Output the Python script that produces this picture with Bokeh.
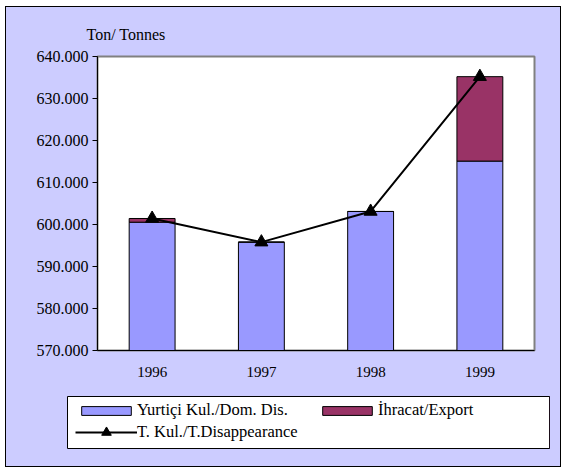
from bokeh.plotting import figure
from bokeh.layouts import column, row
from bokeh.models import (ColumnDataSource, FactorRange, Range1d, CustomJSTickFormatter,
                          Legend, LegendItem)
from bokeh.embed import file_html
from bokeh.resources import INLINE

years = ["1996", "1997", "1998", "1999"]
domestic = [600550, 595800, 603100, 615100]
export = [880, 0, 0, 20100]
total = [601430, 595800, 603100, 635200]
y_ticks = [570000, 580000, 590000, 600000, 610000, 620000, 630000, 640000]
labels = ["Yurtiçi Kul./Dom. Dis.", "İhracat/Export", "T. Kul./T.Disappearance"]

FONT = "Liberation Serif"
BG = "#CCCCFF"
C_DOM = "#9999FF"
C_EXP = "#993366"

src = ColumnDataSource(dict(years=years, domestic=domestic, export=export, total=total))

p = figure(x_range=FactorRange(*years), y_range=Range1d(570000, 640000),
           width=554, height=385, output_backend="svg", toolbar_location=None,
           min_border_left=91, min_border_right=26, min_border_top=49, min_border_bottom=42)
p.border_fill_color = BG
p.background_fill_color = "white"
p.outline_line_color = "#808080"
p.outline_line_width = 2
p.xgrid.visible = False
p.ygrid.visible = False

p.title.text = "Ton/ Tonnes"
p.title.text_font = FONT
p.title.text_font_size = "16px"
p.title.text_font_style = "normal"
p.title.text_color = "black"
p.title.align = "left"
p.title.offset = -11
p.title.standoff = 28

p.vbar_stack(["domestic", "export"], x="years", width=0.42, source=src,
             fill_color=[C_DOM, C_EXP], line_color="black", line_width=1)
p.line(x="years", y="total", source=src, line_color="black", line_width=2)
p.scatter(x="years", y="total", source=src, marker="triangle", size=13,
          fill_color="black", line_color="black")

p.yaxis.ticker = y_ticks
p.yaxis.formatter = CustomJSTickFormatter(code="return (tick/1000).toFixed(3);")
p.yaxis.major_label_text_font = FONT
p.yaxis.major_label_text_font_size = "16px"
p.yaxis.major_label_text_color = "black"
p.yaxis.major_tick_out = 5
p.yaxis.major_tick_in = 0
p.yaxis.minor_tick_out = 0
p.yaxis.minor_tick_in = 0
p.yaxis.major_label_standoff = 4
p.yaxis.axis_line_color = "black"
p.yaxis.major_tick_line_color = "black"

p.xaxis.major_label_text_font = FONT
p.xaxis.major_label_text_font_size = "15px"
p.xaxis.major_label_text_color = "black"
p.xaxis.major_tick_out = 0
p.xaxis.major_tick_in = 0
p.xaxis.major_label_standoff = 16
p.xaxis.axis_line_color = "black"

# legend panel: its frame is the legend box
pl = figure(width=554, height=74, output_backend="svg", toolbar_location=None,
            x_range=Range1d(0, 1), y_range=Range1d(0, 1),
            min_border_left=61, min_border_right=11, min_border_top=4, min_border_bottom=18)
pl.border_fill_color = BG
pl.background_fill_color = "white"
pl.outline_line_color = "black"
pl.outline_line_width = 1
pl.xaxis.visible = False
pl.yaxis.visible = False
pl.grid.visible = False

# legend-only renderers, placed outside the visible range
off = ColumnDataSource(dict(x=[5], top=[5], y=[5]))
r_dom = pl.vbar(x="x", top="top", width=0.1, source=off, fill_color=C_DOM, line_color="black")
r_exp = pl.vbar(x="x", top="top", width=0.1, source=off, fill_color=C_EXP, line_color="black")
r_ln = pl.line(x="x", y="y", source=off, line_color="black", line_width=2)
r_sc = pl.scatter(x="x", y="y", source=off, marker="triangle", size=14,
                  fill_color="black", line_color="black")

common = dict(label_text_font=FONT, label_text_font_size="16.5px", label_text_color="black",
              glyph_width=62, label_standoff=0, spacing=2, padding=0, margin=0,
              border_line_alpha=0, background_fill_alpha=0)

leg1 = Legend(items=[LegendItem(label=labels[0], renderers=[r_dom])],
              location=(8, 28), glyph_height=11, label_height=20, **common)
leg2 = Legend(items=[LegendItem(label=labels[1], renderers=[r_exp])],
              location=(249, 28), glyph_height=11, label_height=20, **common)
leg3 = Legend(items=[LegendItem(label=labels[2], renderers=[r_ln, r_sc])],
              location=(8, 4), glyph_height=24, label_height=24, **common)
pl.add_layout(leg1, "center")
pl.add_layout(leg2, "center")
pl.add_layout(leg3, "center")

layout = column(p, row(pl), spacing=0)
layout.styles = {"border": "1px solid black", "background-color": BG}
layout.margin = (6, 0, 0, 5)

open("out.html", "w").write(file_html(layout, INLINE))
